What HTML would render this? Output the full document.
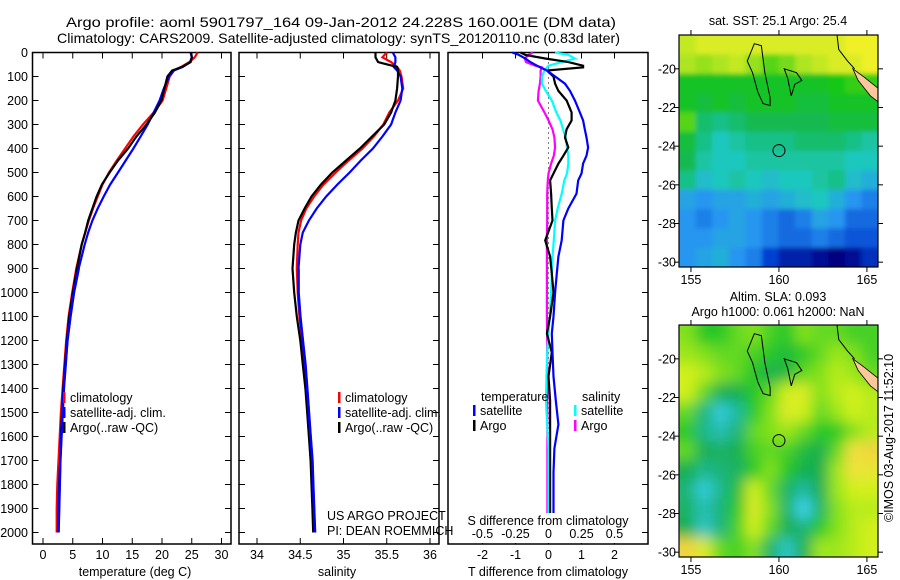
<!DOCTYPE html>
<html><head><meta charset="utf-8"><style>
html,body{margin:0;padding:0;background:#fff;}
svg{display:block;font-family:"Liberation Sans",sans-serif;}
text{fill:#000;font-size:12.5px;}
</style></head><body>
<svg id="fig" width="900" height="580" viewBox="0 0 900 580">
<defs>
<filter id="blur1" x="-5%" y="-5%" width="110%" height="110%"><feGaussianBlur stdDeviation="2.5"/></filter>
<filter id="blur2" x="-5%" y="-5%" width="110%" height="110%"><feGaussianBlur stdDeviation="7"/></filter>
<clipPath id="clip1"><rect x="679" y="35" width="199" height="232"/></clipPath>
<clipPath id="clip2"><rect x="679" y="325" width="199" height="232"/></clipPath>
</defs>
<text x="66" y="27" textLength="550" lengthAdjust="spacingAndGlyphs" style="font-size:14px">Argo profile: aoml 5901797_164 09-Jan-2012 24.228S 160.001E (DM data)</text>
<text x="57" y="43" textLength="563" lengthAdjust="spacingAndGlyphs" style="font-size:14px">Climatology: CARS2009. Satellite-adjusted climatology: synTS_20120110.nc (0.83d later)</text>
<g id="g1"></g>
<g id="g2"></g>
<g id="g3"></g>
<g id="m1"></g>
<g id="m2"></g>
<text x="778" y="25" text-anchor="middle">sat. SST: 25.1 Argo: 25.4</text>
<text x="778" y="301" text-anchor="middle">Altim. SLA: 0.093</text>
<text x="778" y="316" text-anchor="middle">Argo h1000: 0.061 h2000: NaN</text>
<text transform="translate(893,438) rotate(-90)" text-anchor="middle">©IMOS 03-Aug-2017 11:52:10</text>
</svg>
<script>
const depths=[0,20,40,60,75,100,150,200,250,300,350,400,450,500,550,600,650,700,750,800,900,1000,1100,1200,1300,1400,1500,1600,1700,1800,1900,2000];
const tempArgo=[24.9,25.0,24.8,23.4,21.7,20.9,20.4,19.9,18.8,17.4,15.7,14.3,12.6,11.2,9.9,9.0,8.3,7.6,7.1,6.5,5.7,5.0,4.4,4.0,3.7,3.4,3.2,3.0,2.9,2.7,2.6,2.5];
const tempClim=[26.0,25.5,24.6,23.2,22.0,21.3,20.7,20.1,18.6,16.8,15.2,13.8,12.4,11.1,10.0,9.2,8.4,7.7,7.1,6.5,5.6,4.9,4.3,3.9,3.6,3.3,3.0,2.8,2.6,2.4,2.3,2.3];
const tempSat=[24.8,25.0,24.7,23.5,22.0,21.2,20.3,19.6,18.6,17.6,16.4,15.2,13.9,12.6,11.3,10.2,9.2,8.3,7.6,7.0,6.0,5.2,4.6,4.1,3.8,3.5,3.3,3.1,2.9,2.8,2.7,2.6];
const salArgo=[35.37,35.37,35.40,35.62,35.63,35.63,35.62,35.60,35.55,35.47,35.33,35.19,35.03,34.87,34.74,34.63,34.55,34.48,34.45,34.43,34.41,34.43,34.46,34.50,34.53,34.56,34.58,34.60,34.62,34.63,34.64,34.65];
const salClim=[35.50,35.45,35.55,35.62,35.65,35.67,35.69,35.63,35.53,35.46,35.35,35.22,35.06,34.91,34.77,34.66,34.57,34.51,34.48,34.47,34.46,34.47,34.49,34.52,34.55,34.57,34.59,34.61,34.63,34.64,34.65,34.66];
const salSat=[35.57,35.60,35.60,35.58,35.62,35.66,35.68,35.66,35.60,35.55,35.45,35.34,35.20,35.07,34.93,34.80,34.69,34.60,34.53,34.50,34.48,34.48,34.50,34.53,34.56,34.58,34.60,34.62,34.64,34.65,34.66,34.67];
const diffDepths=[0,10,25,40,55,62,75,100,130,160,200,250,283,320,354,396,430,463,504,533,588,650,700,783,850,921,1000,1100,1171,1250,1350,1450,1550,1650,1750,1850,1950,2000];
const tDiffSat=[-1.1,-0.9,-0.7,-0.55,-0.35,-0.25,-0.05,0.2,0.5,0.65,0.8,0.95,1.05,1.1,1.15,1.2,1.15,1.05,1.0,0.9,0.85,0.6,0.45,0.4,0.3,0.25,0.2,0.15,0.1,0.12,0.15,0.22,0.3,0.18,0.15,0.15,0.15,0.15];
const tDiffArgo=[-0.85,-0.7,-0.1,0.6,1.05,1.05,-0.05,0.15,0.2,0.3,0.55,0.7,0.7,0.55,0.5,0.6,0.45,0.3,0.15,0.05,0.08,0.1,0.12,-0.1,0.05,0.1,0.15,0.05,-0.05,0.1,0.0,0.05,0.05,0.05,0.05,0.05,0.05,0.05];
const sDiffSat=[0.05,0.15,0.2,0.1,0.0,-0.01,-0.03,-0.05,-0.05,-0.02,0.025,0.06,0.09,0.11,0.13,0.14,0.15,0.15,0.14,0.12,0.1,0.07,0.05,0.04,0.03,0.025,0.02,0.01,0.0,-0.01,-0.015,-0.02,-0.01,0.0,0.0,0.0,0.0,0.0];
const sDiffArgo=[-0.12,-0.15,-0.18,-0.17,-0.1,-0.05,-0.06,-0.06,-0.065,-0.075,-0.08,-0.03,0.0,0.03,0.045,0.05,0.04,0.02,0.0,-0.005,-0.01,-0.01,-0.01,-0.012,-0.012,-0.012,-0.012,-0.012,-0.01,-0.01,-0.01,-0.008,-0.008,-0.008,-0.008,-0.008,-0.008,-0.008];
const depthTicks=[0,100,200,300,400,500,600,700,800,900,1000,1100,1200,1300,1400,1500,1600,1700,1800,1900,2000];
const tempTicks=[0,5,10,15,20,25,30];
const salTicks=[34,34.5,35,35.5,36];
const tDiffTicks=[-2,-1,0,1,2];
const sDiffTicks=[-0.5,-0.25,0,0.25,0.5];
const sDiffTickLabels=["-0.5","-0.25","0","0.25","0.5"];
const sstGrid=[
[25.7,25.8,25.8,25.8,25.8,25.8,25.8,25.8,25.8,25.8,25.9,25.9],
[25.6,25.5,25.6,25.7,25.5,25.3,25.4,25.6,25.7,25.8,25.8,25.9],
[25.0,25.0,25.0,25.0,25.0,25.0,25.0,25.0,25.0,25.1,25.2,25.2],
[25.0,24.9,25.0,24.9,25.0,25.0,25.0,24.9,24.9,25.0,25.0,25.0],
[25.3,24.7,24.6,24.7,24.8,24.8,24.8,24.8,24.8,24.9,24.9,24.9],
[24.9,24.6,24.4,24.5,24.6,24.6,24.6,24.7,24.7,24.7,24.6,24.5],
[24.8,24.5,24.4,24.4,24.5,24.5,24.5,24.5,24.5,24.5,24.4,24.4],
[24.6,24.3,24.4,24.5,24.4,24.3,24.4,24.4,24.5,24.6,24.3,24.2],
[24.1,24.0,24.1,24.1,24.2,24.1,24.2,24.3,24.4,24.2,24.0,23.9],
[24.0,23.9,24.0,24.1,24.0,23.9,23.8,23.9,24.1,24.0,23.8,23.8],
[24.0,24.0,24.1,24.1,24.0,23.9,23.8,23.8,23.9,23.8,23.7,23.7],
[24.0,24.1,24.2,24.0,23.9,23.6,23.4,23.4,23.3,23.2,23.3,23.5]];
const slaGrid=[
[0.03,0.0,0.0,0.02,0.03,0.01,0.0,0.03,0.02,0.02,0.01,0.01],
[0.04,0.03,0.02,0.02,0.01,0.0,-0.01,0.0,0.02,0.04,0.03,0.01],
[0.06,0.05,0.03,0.02,0.0,-0.02,-0.01,0.02,0.03,0.05,0.04,0.02],
[0.06,0.02,-0.02,-0.02,0.0,0.02,0.06,0.07,0.03,0.05,0.06,0.05],
[0.02,-0.04,-0.09,-0.06,0.0,0.03,0.07,0.06,0.02,0.04,0.06,0.05],
[0.0,-0.05,-0.07,-0.04,0.02,0.03,0.04,0.02,0.0,0.0,0.03,0.05],
[0.02,-0.02,-0.03,-0.02,0.01,0.02,0.01,-0.01,-0.02,0.02,0.09,0.1],
[-0.02,-0.05,-0.04,-0.03,0.0,0.03,0.0,-0.02,-0.02,0.04,0.09,0.08],
[-0.04,-0.09,-0.05,-0.01,0.06,0.02,-0.03,-0.06,-0.02,0.04,0.06,0.06],
[-0.03,-0.07,-0.04,0.0,0.07,0.03,-0.03,-0.1,-0.03,0.03,0.05,0.05],
[-0.02,-0.08,-0.04,0.01,0.06,0.02,-0.02,-0.04,0.0,0.03,0.05,0.06],
[0.1,0.07,0.02,0.01,0.03,-0.03,-0.08,-0.02,0.04,0.04,0.05,0.06]];
const lonTicks=[155,160,165];
const latTicks=[-20,-22,-24,-26,-28,-30];
const argoLon=160.001, argoLat=-24.228;

const NS="http://www.w3.org/2000/svg";
function mk(tag,attrs,parent){const e=document.createElementNS(NS,tag);for(const k in attrs)e.setAttribute(k,attrs[k]);parent.appendChild(e);return e;}
const TOP=52.5, BOT=544;
const yD=d=>TOP+d*0.24;
const xT=v=>43+v*5.95;
const xS=v=>257+(v-34)*86.5;
const xTd=v=>548.5+v*33;
const xSd=v=>548.5+v*132;

function frame(g,x0,x1,leftTicks,rightTicks){
  const r=mk('rect',{x:x0,y:TOP,width:x1-x0,height:BOT-TOP,fill:'none',stroke:'#000','stroke-width':1.5},g);
  
  
  depthTicks.forEach(d=>{
    if(leftTicks){const t=mk('line',{x1:x0,x2:x0+6,y1:yD(d),y2:yD(d),stroke:'#000'},g);}
    if(rightTicks){const t=mk('line',{x1:x1-6,x2:x1,y1:yD(d),y2:yD(d),stroke:'#000'},g);}
  });
}
function series(g,xs,ds,fx,color,name,w){
  const pts=xs.map((v,i)=>fx(v).toFixed(1)+','+yD(ds[i]).toFixed(1)).join(' ');
  const p=mk('polyline',{points:pts,fill:'none',stroke:color,'stroke-width':w||2.2,'stroke-linejoin':'miter'},g);
  
  
}
function txt(g,x,y,s,anchor,name){const t=mk('text',{x:x,y:y,'text-anchor':anchor||'start'},g);t.textContent=s;return t;}
function legend(g,x,y,color,label,name){
  const l=mk('rect',{x:x,y:y-10,width:2.5,height:11,fill:color},g);
  
  
  txt(g,x+7,y,label,'start',name);
}
const g1=document.getElementById('g1');
frame(g1,32.5,231,true,true);
depthTicks.forEach(d=>txt(g1,28,yD(d)+4.5,String(d),'end','depth-tick-label'));
tempTicks.forEach(v=>{
  const a=mk('line',{x1:xT(v),x2:xT(v),y1:TOP,y2:TOP+6,stroke:'#000'},g1);
  const b=mk('line',{x1:xT(v),x2:xT(v),y1:BOT-6,y2:BOT,stroke:'#000'},g1);
  txt(g1,xT(v),559,String(v),'middle','temp-tick-label');
});
txt(g1,135,576,'temperature (deg C)','middle','temp-axis-title');
series(g1,tempClim,depths,xT,'#ff0000','temp-climatology-line');
series(g1,tempSat,depths,xT,'#0000ff','temp-satellite-line');
series(g1,tempArgo,depths,xT,'#000000','temp-argo-line');
series(g1,tempSat.slice(20),depths.slice(20),xT,'#0000ff','temp-satellite-deep-line',2.6);
legend(g1,63,402,'#ff0000','climatology','legend-climatology');
legend(g1,63,417,'#0000ff','satellite-adj. clim.','legend-satellite-adj');
legend(g1,63,432,'#000000','Argo(..raw -QC)','legend-argo');
const g2=document.getElementById('g2');
frame(g2,239,439,true,true);
salTicks.forEach(v=>{
  const a=mk('line',{x1:xS(v),x2:xS(v),y1:TOP,y2:TOP+6,stroke:'#000'},g2);
  const b=mk('line',{x1:xS(v),x2:xS(v),y1:BOT-6,y2:BOT,stroke:'#000'},g2);
  txt(g2,xS(v),559,String(v),'middle','sal-tick-label');
});
txt(g2,337,576,'salinity','middle','sal-axis-title');
series(g2,salClim,depths,xS,'#ff0000','sal-climatology-line');
series(g2,salSat,depths,xS,'#0000ff','sal-satellite-line');
series(g2,salArgo,depths,xS,'#000000','sal-argo-line');
series(g2,salSat.slice(20),depths.slice(20),xS,'#0000ff','sal-satellite-deep-line',2.6);
legend(g2,338,402,'#ff0000','climatology','legend-climatology');
legend(g2,338,417,'#0000ff','satellite-adj. clim.','legend-satellite-adj');
legend(g2,338,432,'#000000','Argo(..raw -QC)','legend-argo');
txt(g2,327,520,'US ARGO PROJECT','start','project-credit');
txt(g2,327,535,'PI: DEAN ROEMMICH','start','pi-credit');
const g3=document.getElementById('g3');
frame(g3,448,648,false,true);
const zl=mk('line',{x1:xTd(0),x2:xTd(0),y1:TOP,y2:BOT,stroke:'#000','stroke-dasharray':'1,4'},g3);


tDiffTicks.forEach(v=>{
  const a=mk('line',{x1:xTd(v),x2:xTd(v),y1:TOP,y2:TOP+6,stroke:'#000'},g3);
  const b=mk('line',{x1:xTd(v),x2:xTd(v),y1:BOT-6,y2:BOT,stroke:'#000'},g3);
  txt(g3,xTd(v),559,String(v),'middle','tdiff-tick-label');
});
series(g3,sDiffArgo,diffDepths,xSd,'#ff00ff','sdiff-argo-line');
series(g3,sDiffSat,diffDepths,xSd,'#00ffff','sdiff-satellite-line');
series(g3,tDiffArgo,diffDepths,xTd,'#000000','tdiff-argo-line');
series(g3,tDiffSat,diffDepths,xTd,'#0000ff','tdiff-satellite-line');
const bg=mk('rect',{x:460,y:513,width:180,height:30,fill:'#fff'},g3);


sDiffTicks.forEach((v,i)=>txt(g3,xSd(v),538,sDiffTickLabels[i],'middle','sdiff-tick-label'));
txt(g3,548,525,'S difference from climatology','middle','sdiff-axis-title');
txt(g3,548,576,'T difference from climatology','middle','tdiff-axis-title');
txt(g3,481,401,'temperature','start','legend-temperature-heading');
legend(g3,473,415,'#0000ff','satellite','legend-tdiff-satellite');
legend(g3,473,430,'#000000','Argo','legend-tdiff-argo');
txt(g3,582,401,'salinity','start','legend-salinity-heading');
legend(g3,574,415,'#00ffff','satellite','legend-sdiff-satellite');
legend(g3,574,430,'#ff00ff','Argo','legend-sdiff-argo');

function lerpColor(stops,v){
  const rgb=c=>'rgb('+c.join(',')+')';
  if(v<=stops[0][0])return rgb(stops[0][1]);
  for(let i=1;i<stops.length;i++){
    if(v<=stops[i][0]){const a=stops[i-1],b=stops[i];const t=(v-a[0])/(b[0]-a[0]);
      return rgb([0,1,2].map(k=>Math.round(a[1][k]+(b[1][k]-a[1][k])*t)));}
  }
  return rgb(stops[stops.length-1][1]);
}
const sstStops=[[23.2,[0,0,128]],[23.6,[0,64,208]],[24.0,[40,150,240]],[24.4,[30,200,190]],[24.8,[20,185,80]],[25.1,[20,200,20]],[25.5,[150,225,30]],[25.9,[240,240,40]]];
const slaStops=[[-0.1,[60,210,240]],[-0.06,[30,185,160]],[-0.02,[25,175,80]],[0.0,[40,200,40]],[0.03,[130,225,30]],[0.06,[210,240,30]],[0.09,[240,225,60]],[0.12,[240,190,60]]];
const LON0=154.32, LON1=165.63, LAT0=-18.25, LAT1=-30.25;
function drawMap(id,top,grid,stops,prefix,clipId,filtId){
  const g=document.getElementById(id);
  const x0=679,x1=878,bot=top+232;
  const xL=lon=>x0+(lon-LON0)/(LON1-LON0)*(x1-x0);
  const yL=lat=>top+(lat-LAT0)/(LAT1-LAT0)*(bot-top);
  const rows=grid.length, cols=grid[0].length;
  const cw=(x1-x0)/cols, ch=(bot-top)/rows;
  const clipG=mk('g',{'clip-path':'url(#'+clipId+')'},g);
  
  
  const cells=mk('g',{filter:'url(#'+filtId+')'},clipG);
  
  
  grid.forEach((row,r)=>row.forEach((v,c)=>{
    const ex=(c===0?-12:0), ey=(r===0?-12:0);
    const ew=(c===cols-1?12:0)-ex, eh=(r===rows-1?12:0)-ey;
    const cell=mk('rect',{x:(x0+c*cw+ex).toFixed(2),y:(top+r*ch+ey).toFixed(2),width:(cw+0.6+ew).toFixed(2),height:(ch+0.6+eh).toFixed(2),fill:lerpColor(stops,v)},cells);
    
    
  }));
  const isl=mk('path',{d:'M'+xL(158.6)+','+yL(-18.7)+' L'+xL(159.0)+','+yL(-18.8)+' L'+xL(159.2)+','+yL(-20.2)+' L'+xL(159.5)+','+yL(-21.5)+' L'+xL(159.5)+','+yL(-21.9)+' L'+xL(159.1)+','+yL(-21.8)+' L'+xL(158.8)+','+yL(-21.2)+' L'+xL(158.5)+','+yL(-20.2)+' L'+xL(158.2)+','+yL(-19.6)+' Z',fill:'none',stroke:'#000','stroke-width':1},g);
  
  
  const isl2=mk('path',{d:'M'+xL(160.3)+','+yL(-20.0)+' L'+xL(161.0)+','+yL(-20.2)+' L'+xL(161.3)+','+yL(-20.6)+' L'+xL(160.9)+','+yL(-20.8)+' L'+xL(160.7)+','+yL(-21.4)+' L'+xL(160.5)+','+yL(-20.5)+' Z',fill:'none',stroke:'#000','stroke-width':1},g);
  
  
  const nc=mk('path',{d:'M'+xL(164.2)+','+yL(-20.0)+' L'+xL(164.8)+','+yL(-20.4)+' L'+xL(165.63)+','+yL(-21.0)+' L'+xL(165.63)+','+yL(-21.7)+' L'+xL(165.2)+','+yL(-21.4)+' L'+xL(164.5)+','+yL(-20.6)+' Z',fill:'#fdc79c',stroke:'#000','stroke-width':0.8},g);
  
  
  const reef=mk('path',{d:'M'+xL(163.3)+','+yL(-18.25)+' L'+xL(163.4)+','+yL(-19.0)+' L'+xL(163.9)+','+yL(-19.6)+' L'+xL(164.3)+','+yL(-20.0),fill:'none',stroke:'#000','stroke-width':1},g);
  
  
  const circ=mk('circle',{cx:xL(argoLon),cy:yL(argoLat),r:6,fill:'none',stroke:'#000','stroke-width':1},g);
  
  
  const fr=mk('rect',{x:x0,y:top,width:x1-x0,height:bot-top,fill:'none',stroke:'#000','stroke-width':1.2},g);
  
  
  lonTicks.forEach(lon=>{
    const a=mk('line',{x1:xL(lon),x2:xL(lon),y1:top-5,y2:top,stroke:'#000'},g);
    const b=mk('line',{x1:xL(lon),x2:xL(lon),y1:bot,y2:bot+5,stroke:'#000'},g);
    txt(g,xL(lon),bot+17,String(lon),'middle','lon-tick-label');
  });
  latTicks.forEach(lat=>{
    const a=mk('line',{x1:x0-5,x2:x0,y1:yL(lat),y2:yL(lat),stroke:'#000'},g);
    const b=mk('line',{x1:x1,x2:x1+5,y1:yL(lat),y2:yL(lat),stroke:'#000'},g);
    txt(g,x0-3,yL(lat)+4.5,String(lat),'end','lat-tick-label');
  });
}
drawMap('m1',35,sstGrid,sstStops,'sst-map','clip1','blur1');
drawMap('m2',325,slaGrid,slaStops,'sla-map','clip2','blur2');
</script>
</body></html>
